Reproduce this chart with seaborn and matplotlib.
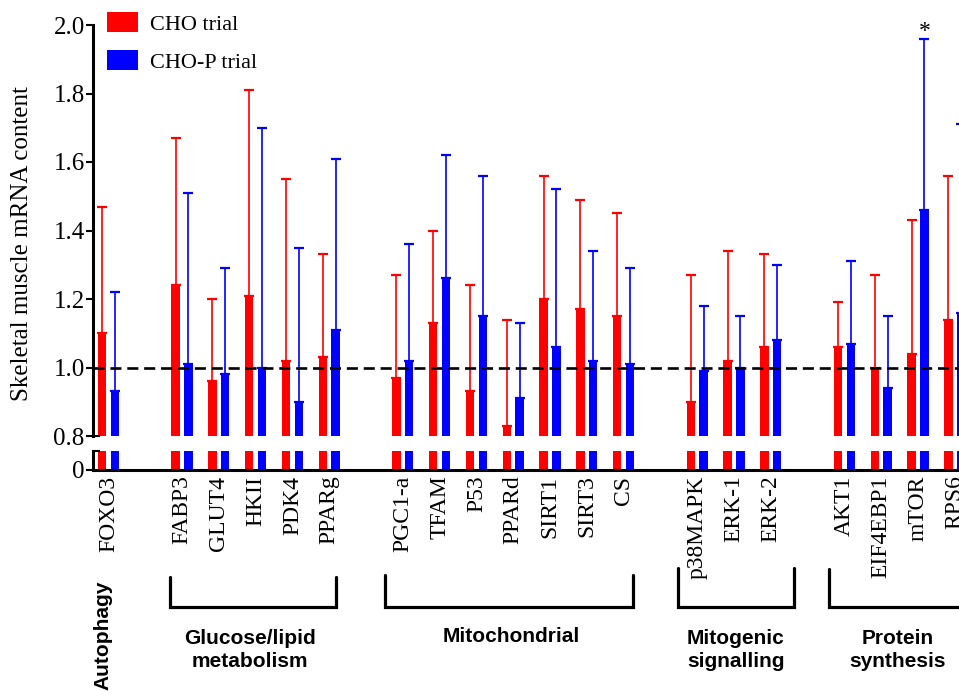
import numpy as np
import pandas as pd
import matplotlib
matplotlib.use("Agg")
import matplotlib.pyplot as plt
import matplotlib.transforms as mtransforms
import seaborn as sns

# ---------------- data ----------------
genes = ["FOXO3", "FABP3", "GLUT4", "HKII", "PDK4", "PPARg",
         "PGC1-a", "TFAM", "P53", "PPARd", "SIRT1", "SIRT3", "CS",
         "p38MAPK", "ERK-1", "ERK-2",
         "AKT1", "EIF4EBP1", "mTOR", "RPS6"]
cho_mean = [1.10, 1.24, 0.96, 1.21, 1.02, 1.03,
            0.97, 1.13, 0.93, 0.83, 1.20, 1.17, 1.15,
            0.90, 1.02, 1.06,
            1.06, 1.00, 1.04, 1.14]
cho_top = [1.47, 1.67, 1.20, 1.81, 1.55, 1.33,
           1.27, 1.40, 1.24, 1.14, 1.56, 1.49, 1.45,
           1.27, 1.34, 1.33,
           1.19, 1.27, 1.43, 1.56]
chop_mean = [0.93, 1.01, 0.98, 1.00, 0.90, 1.11,
             1.02, 1.26, 1.15, 0.91, 1.06, 1.02, 1.01,
             0.99, 1.00, 1.08,
             1.07, 0.94, 1.46, 1.16]
chop_top = [1.22, 1.51, 1.29, 1.70, 1.35, 1.61,
            1.36, 1.62, 1.56, 1.13, 1.52, 1.34, 1.29,
            1.18, 1.15, 1.30,
            1.31, 1.15, 1.96, 1.71]
trials = ["CHO trial", "CHO-P trial"]
colors = ["#FF0000", "#0000FF"]
# category order with empty slots separating the gene groups
order = ["FOXO3", " ",
         "FABP3", "GLUT4", "HKII", "PDK4", "PPARg", "  ",
         "PGC1-a", "TFAM", "P53", "PPARd", "SIRT1", "SIRT3", "CS", "   ",
         "p38MAPK", "ERK-1", "ERK-2", "    ",
         "AKT1", "EIF4EBP1", "mTOR", "RPS6"]
groups = ["Autophagy", "Glucose/lipid\nmetabolism", "Mitochondrial",
          "Mitogenic\nsignalling", "Protein\nsynthesis"]
yticks_upper = [0.8, 1.0, 1.2, 1.4, 1.6, 1.8, 2.0]

df = pd.DataFrame({
    "gene": genes * 2,
    "trial": [trials[0]] * len(genes) + [trials[1]] * len(genes),
    "value": cho_mean + chop_mean,
})

# ---------------- figure ----------------
sns.set_theme(style="white")
plt.rcParams["font.family"] = ["Liberation Serif", "DejaVu Serif"]
plt.rcParams["text.color"] = "black"
plt.rcParams["axes.labelcolor"] = "black"
plt.rcParams["xtick.color"] = "black"
plt.rcParams["ytick.color"] = "black"

W, H = 959, 691
fig = plt.figure(figsize=(W / 100, H / 100), dpi=100)
axL, axR = 93, 959
ax = fig.add_axes([axL / W, 1 - 436 / H, (axR - axL) / W, 411 / H])
axb = fig.add_axes([axL / W, 1 - 470 / H, (axR - axL) / W, 19 / H])

bw, bgap = 0.69, 0.34
for a, leg in ((ax, True), (axb, False)):
    sns.barplot(data=df, x="gene", y="value", hue="trial", order=order,
                hue_order=trials, palette=colors, width=bw, gap=bgap,
                errorbar=None, saturation=1, ax=a, legend=leg, zorder=2,
                linewidth=0)

# error bars (upper only)
pos = {g: i for i, g in enumerate(order)}
xs = np.array([pos[g] for g in genes], dtype=float)
off = bw / 4
for sign, m, t, c in ((-1, cho_mean, cho_top, colors[0]),
                      (1, chop_mean, chop_top, colors[1])):
    m = np.array(m); t = np.array(t)
    ax.errorbar(xs + sign * off, m, yerr=[np.zeros_like(m), t - m], fmt="none",
                ecolor=c, elinewidth=1.2, capsize=3.6, capthick=1.6, zorder=3,
                clip_on=True)

xlim = (-0.418, 23.114)
for a in (ax, axb):
    a.set_xlim(*xlim)
    a.set_xlabel("")
    a.set_ylabel("")
    for s in ("top", "right"):
        a.spines[s].set_visible(False)
    a.spines["left"].set_linewidth(2.2)
    a.spines["left"].set_color("black")
    a.tick_params(axis="y", which="both", left=True, length=5, width=1.5,
                  color="black", labelsize=18, pad=1, labelcolor="black")
    a.grid(False)

ax.set_ylim(0.8, 2.0)
ax.set_yticks(yticks_upper)
ax.set_yticklabels([f"{v:.1f}" for v in yticks_upper])
ax.spines["bottom"].set_visible(False)
ax.tick_params(axis="x", bottom=False, labelbottom=False)
ax.axhline(1.0, color="black", lw=1.9, dashes=(4.2, 2.2), zorder=5)

axb.set_ylim(0, 0.05)
axb.set_yticks([0])
axb.set_yticklabels(["0"])
axb.spines["bottom"].set_linewidth(2.2)
axb.spines["bottom"].set_color("black")
axb.tick_params(axis="x", bottom=False, length=0, pad=4, labelsize=17,
                labelrotation=90, labelcolor="black")
for lab in axb.get_xticklabels():
    lab.set_va("top")

# small break caps on the axis
cap = 7 / (axR - axL)
ax.plot([0, cap], [0, 0], transform=ax.transAxes, color="black", lw=1.5,
        clip_on=False, solid_capstyle="butt")
axb.plot([0, cap], [1, 1], transform=axb.transAxes, color="black", lw=1.5,
         clip_on=False, solid_capstyle="butt")

# significance marker
ax.text(pos["mTOR"] + off, 1.982, "*", ha="center", va="center", fontsize=17,
        clip_on=False)

# legend
handles, labels = ax.get_legend_handles_labels()
ax.legend(handles, labels, loc="upper left",
          bbox_to_anchor=(107 / W, 1 - 12 / H), bbox_transform=fig.transFigure,
          frameon=False, borderpad=0, borderaxespad=0, handlelength=1.4,
          handleheight=1.0, handletextpad=0.55, labelspacing=0.7,
          prop={"family": "Liberation Serif", "size": 16})

# y label
fig.text(22.5 / W, 1 - 243.5 / H, "Skeletal muscle mRNA content",
         rotation=90, ha="center", va="center", fontsize=18)

# group brackets and labels (x in data units, y in figure pixels)
tr = mtransforms.blended_transform_factory(ax.transData, fig.transFigure)
brackets = [(1.673, 6.185, 577), (7.51, 14.25, 575), (15.48, 18.63, 568),
            (19.58, 26.0, 569)]
ybot = 607
for x0, x1, ytop in brackets:
    ax.plot([x0, x0, x1, x1], [1 - ytop / H, 1 - ybot / H, 1 - ybot / H, 1 - ytop / H],
            transform=tr, color="black", lw=2.3, clip_on=False,
            solid_joinstyle="miter")

gfont = {"family": ["Liberation Sans", "DejaVu Sans"], "weight": "bold",
         "size": 15}
ax.text(-0.15, 1 - 635 / H, groups[0], transform=tr, rotation=90,
        ha="center", va="center", fontdict=gfont)
ax.text(3.85, 1 - 650 / H, groups[1], transform=tr, ha="center", va="center",
        fontdict=gfont, linespacing=1.25)
ax.text(10.96, 1 - 637 / H, groups[2], transform=tr, ha="center", va="center",
        fontdict=gfont)
ax.text(17.05, 1 - 650 / H, groups[3], transform=tr, ha="center", va="center",
        fontdict=gfont, linespacing=1.25)
ax.text(21.45, 1 - 650 / H, groups[4], transform=tr, ha="center", va="center",
        fontdict=gfont, linespacing=1.25)

fig.savefig("out.png", dpi=100)
